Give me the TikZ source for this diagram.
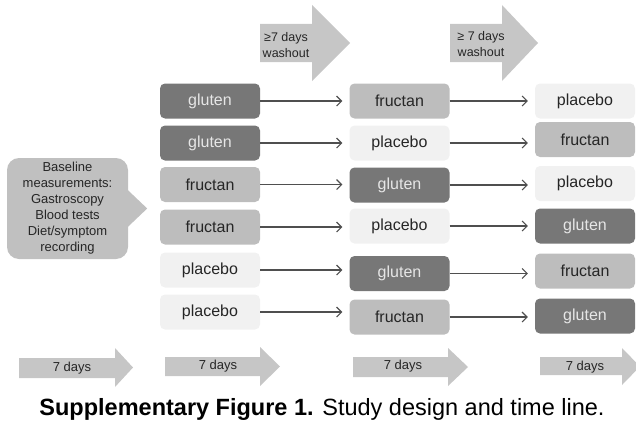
\documentclass[tikz,border=0pt]{standalone}
\usepackage{fontspec}
\setmainfont{Liberation Sans}
\usetikzlibrary{arrows.meta}
\definecolor{glufill}{HTML}{777777}
\definecolor{glutext}{HTML}{E6E6E6}
\definecolor{frufill}{HTML}{BDBDBD}
\definecolor{plafill}{HTML}{F1F1F1}
\definecolor{basefill}{HTML}{C0C0C0}
\definecolor{arrfill}{HTML}{C6C6C6}
\definecolor{arrline}{HTML}{4F4F4F}
\definecolor{txt}{HTML}{262626}

\begin{document}
\begin{tikzpicture}[x=1pt, y=-1pt,
  box/.style={rounded corners=5pt, minimum width=100pt, minimum height=35pt, inner sep=0pt,
              font=\fontsize{16}{19}\selectfont},
  glu/.style={box, fill=glufill, text=glutext},
  fru/.style={box, fill=frufill, text=txt},
  pla/.style={box, fill=plafill, text=txt},
  arr/.style={-{Straight Barb[length=5pt,width=10pt]}, line width=1.1pt, draw=arrline, shorten >=7pt},
  bigarr/.style={fill=arrfill},
  wash/.style={font=\fontsize{12.5}{16}\selectfont, align=center, text=txt},
  days/.style={font=\fontsize{13}{16}\selectfont, text=txt}]
\useasboundingbox (0,0) rectangle (636,428);

% ---------- Baseline ----------
\node[fill=basefill, rounded corners=12pt, minimum width=121pt, minimum height=101pt, inner sep=0pt,
      align=center, text=txt, font=\fontsize{13}{16}\selectfont]
                                     (base) at (67.5,208.5) {Baseline\\measurements:\\Gastroscopy\\Blood tests\\Diet/symptom\\recording};
\fill[basefill] ([xshift=-1pt]base.east) ++(0,-19) -- ++(20,19) -- ++(-20,19) -- cycle;

% ---------- Period 1 ----------
\node[glu]                           (a-1) at (210,101) {gluten};
\node[glu]                           (a-2) at (210,143) {gluten};
\node[fru]                           (a-3) at (210,184.5) {fructan};
\node[fru]                           (a-4) at (210,227) {fructan};
\node[pla]                           (a-5) at (210,270) {placebo};
\node[pla]                           (a-6) at (210,312) {placebo};

% ---------- Period 2 ----------
\node[fru]                           (b-1) at (399.5,101) {fructan};
\node[pla]                           (b-2) at (399.5,143) {placebo};
\node[glu]                           (b-3) at (399.5,185) {gluten};
\node[pla]                           (b-4) at (399.5,226) {placebo};
\node[glu]                           (b-5) at (399.5,273.5) {gluten};
\node[fru]                           (b-6) at (399.5,317) {fructan};

% ---------- Period 3 ----------
\node[pla]                           (c-1) at (585,101) {placebo};
\node[fru]                           (c-2) at (585,139.5) {fructan};
\node[pla]                           (c-3) at (585,183.5) {placebo};
\node[glu]                           (c-4) at (585,226) {gluten};
\node[fru]                           (c-5) at (585,271) {fructan};
\node[glu]                           (c-6) at (585,316) {gluten};

\foreach \i in {1,...,6} {
  \draw[arr] (a-\i.east) -- (a-\i.east -| b-\i.west);
  \draw[arr] (b-\i.east) -- (b-\i.east -| c-\i.west);
}

% ---------- Washout ----------
\fill[bigarr] (260,24) -- (312,24) -- (312,5) -- (350,43) -- (312,81) -- (312,62) -- (260,62) -- cycle;
\node[wash]                          (w-1) at (286,45) {≥7 days\\washout};
\fill[bigarr] (450,24) -- (502,24) -- (502,5) -- (538,43) -- (502,81) -- (502,62) -- (450,62) -- cycle;
\node[wash]                          (w-2) at (481,44) {≥ 7 days\\washout};

% ---------- Time line ----------
\fill[bigarr] (19,358) -- (115,358) -- (115,348) -- (133,367.5) -- (115,387) -- (115,378) -- (19,378) -- cycle;
\node[days]                          (d-0) at (72,368) {7 days};
\fill[bigarr] (165,357) -- (260,357) -- (260,347) -- (280,366.5) -- (260,386) -- (260,376) -- (165,376) -- cycle;
\node[days]                          (d-1) at (218,366) {7 days};
\fill[bigarr] (353,357) -- (448,357) -- (448,348) -- (468,367) -- (448,386) -- (448,377) -- (353,377) -- cycle;
\node[days]                          (d-2) at (403,366) {7 days};
\fill[bigarr] (540,357) -- (622,357) -- (622,348) -- (640,366.5) -- (622,385) -- (622,375) -- (540,375) -- cycle;
\node[days]                          (d-3) at (585,367) {7 days};

% ---------- Caption ----------
\node[font=\fontsize{23.5}{28}\selectfont] (cap) at (322,409) {\bfseries Supplementary Figure 1.\mdseries{} Study design and time line.};
\end{tikzpicture}
\end{document}
